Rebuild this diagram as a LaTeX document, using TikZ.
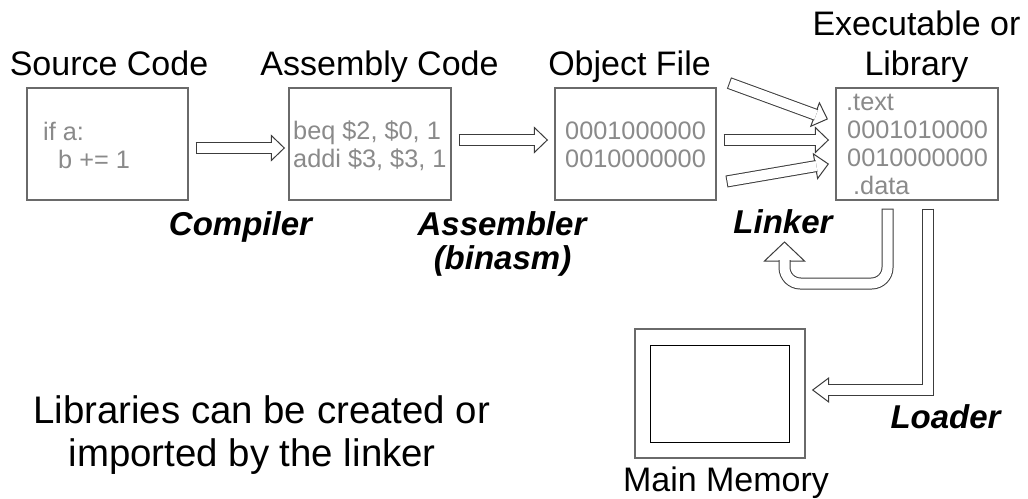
\documentclass[tikz,border=0pt]{standalone}
\usepackage{fontspec}
\setmainfont{Liberation Sans}
\usetikzlibrary{calc}

\definecolor{boxgray}{HTML}{6A6A6A}
\definecolor{codegray}{HTML}{8A8A8A}
\definecolor{arrowgray}{HTML}{3C3C3C}

\tikzset{
  filebox/.style={draw=boxgray, line width=1.4pt, minimum width=161pt, minimum height=112pt, inner sep=0pt},
  title/.style={font=\fontsize{34}{40}\selectfont, inner sep=0pt, anchor=base},
  code/.style={font=\fontsize{25.3}{28}\selectfont, text=codegray, inner sep=0pt, anchor=base west},
  tool/.style={font=\fontsize{33}{38}\selectfont\bfseries\itshape, inner sep=0pt, anchor=base},
  note/.style={font=\fontsize{38.4}{44}\selectfont, inner sep=0pt, anchor=base west},
  headstyle/.style={fill=white, draw=arrowgray, line width=1pt, line join=miter},
  shaftout/.style={draw=arrowgray, line width=12pt},
  shaftin/.style={draw=white, line width=10pt},
}

% straight block arrow from tail coordinate #1 to tip coordinate #2
\newcommand\blockarrow[2]{%
  \pgfmathanglebetweenpoints{\pgfpointanchor{#1}{center}}{\pgfpointanchor{#2}{center}}%
  \let\barang\pgfmathresult
  \draw[headstyle, shift={(#2)}, rotate=\barang] (-13,-12.5) -- (0,0) -- (-13,12.5) -- cycle;
  \draw[shaftout] (#1) -- ($(#2)!12pt!(#1)$);
  \draw[shaftin] ($(#1)!1pt!(#2)$) -- ($(#2)!12pt!(#1)$);
}

\begin{document}
\begin{tikzpicture}[x=1pt, y=1pt]
  \fill[white] (0,0) rectangle (1028,-498);
  \useasboundingbox (0,0) rectangle (1028,-498);

  % titles
  \node[title] (tsrc) at (109,-75) {Source Code};
  \node[title] (tasm) at (379.5,-75) {Assembly Code};
  \node[title] (tobj) at (629.5,-75) {Object File};
  \node[title] (texe1) at (916.5,-35) {Executable or};
  \node[title] (texe2) at (916.5,-75) {Library};

  % file boxes
  \node[filebox] (src) at (107.5,-144) {};
  \node[filebox, minimum width=162pt] (asm) at (370,-144) {};
  \node[filebox] (obj) at (635.5,-144) {};
  \node[filebox, minimum width=162pt] (exe) at (917,-144) {};

  % box contents
  \node[code] (s1) at (43,-140) {if a:};
  \node[code] (s2) at (58,-168) {b += 1};
  \node[code] (a1) at (293,-139) {beq \$2, \$0, 1};
  \node[code] (a2) at (293,-167) {addi \$3, \$3, 1};
  \node[code] (o1) at (565,-139) {0001000000};
  \node[code] (o2) at (565,-167) {0010000000};
  \node[code] (e1) at (846,-110) {.text};
  \node[code] (e2) at (847,-138) {0001010000};
  \node[code] (e3) at (847,-166) {0010000000};
  \node[code] (e4) at (853,-194) {.data};

  % tool names
  \node[tool] (compiler) at (240.5,-235) {Compiler};
  \node[tool] (assembler) at (502,-235) {Assembler};
  \node[tool] (binasm) at (502.5,-269) {(binasm)};
  \node[tool] (linker) at (783,-233) {Linker};
  \node[tool] (loader) at (945.5,-428) {Loader};

  % main memory
  \node[draw=boxgray, line width=1.4pt, minimum width=170pt, minimum height=129pt, inner sep=0pt] (mem) at (720,-393.5) {};
  \node[draw=black, line width=1pt, minimum width=139pt, minimum height=97pt, inner sep=0pt] (memin) at (719.5,-393.5) {};
  \node[title] (tmem) at (726,-491) {Main Memory};

  % note
  \node[note] (n1) at (33,-423) {Libraries can be created or};
  \node[note] (n2) at (68.5,-466) {imported by the linker};

  % arrow ends
  \coordinate (cs) at ([xshift=7pt, yshift=-4pt]src.east);
  \coordinate (ct) at ([xshift=-4pt, yshift=-4pt]asm.west);
  \coordinate (as) at ([xshift=7pt, yshift=4pt]asm.east);
  \coordinate (at) at ([xshift=-7pt, yshift=4pt]obj.west);
  \coordinate (l1s) at (729,-83);
  \coordinate (l1t) at ([xshift=-8pt, yshift=25pt]exe.west);
  \coordinate (l2s) at ([xshift=7pt, yshift=4pt]obj.east);
  \coordinate (l2t) at ([xshift=-7pt, yshift=4pt]exe.west);
  \coordinate (l3s) at (726.5,-181.5);
  \coordinate (l3t) at ([xshift=-7pt, yshift=-20pt]exe.west);

  \blockarrow{cs}{ct}
  \blockarrow{as}{at}
  \blockarrow{l1s}{l1t}
  \blockarrow{l2s}{l2t}
  \blockarrow{l3s}{l3t}

  % linker loop back
  \coordinate (lks) at ([xshift=-29.5pt, yshift=-8pt]exe.south);
  \coordinate (lkt) at (784.5,-242);
  \draw[headstyle] (lkt) -- ++(20,-19) -- ++(-40,0) -- cycle;
  \draw[shaftout, rounded corners=16pt] (lks) -- (lks |- 0,-283.5) -- (lkt |- 0,-283.5) -- ($(lkt)+(0,-18)$);
  \draw[shaftin, rounded corners=16pt] ($(lks)+(0,-1)$) -- (lks |- 0,-283.5) -- (lkt |- 0,-283.5) -- ($(lkt)+(0,-18)$);

  % loader into memory
  \coordinate (lds) at ([xshift=10.5pt, yshift=-8pt]exe.south);
  \coordinate (ldt) at ([xshift=7pt]mem.east |- 0,-390);
  \draw[headstyle] (ldt) -- ++(16,12) -- ++(0,-24) -- cycle;
  \draw[shaftout] (lds) -- (lds |- ldt) -- ($(ldt)+(15,0)$);
  \draw[shaftin] ($(lds)+(0,-1)$) -- (lds |- ldt) -- ($(ldt)+(15,0)$);
\end{tikzpicture}
\end{document}
